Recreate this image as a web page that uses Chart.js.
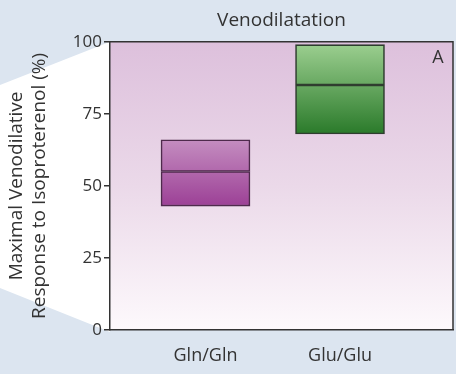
<!DOCTYPE html>
<html>
<head>
<meta charset="utf-8">
<script src="https://cdn.jsdelivr.net/npm/chart.js@4.4.1/dist/chart.umd.min.js"></script>
<style>
  html, body { margin: 0; padding: 0; background: #dce5f0; }
  #wrap { width: 456px; height: 374px; }
</style>
</head>
<body>
<div id="wrap"><canvas id="chart" width="456" height="374"></canvas></div>
<script>
// data
const categories = ['Gln/Gln', 'Glu/Glu'];
const xPositions = [1, 2];
const lows = [43, 68];
const medians = [55, 85];
const highs = [66, 99];
const yTicks = [0, 25, 50, 75, 100];

const FONT = "'Open Sans', sans-serif";
const INK = '#333';

// box colours (top of gradient, bottom of gradient, outline)
const boxColors = [
    { top: '#c48dc0', bottom: '#9c4096', border: '#4e2a4c' },
    { top: '#9bce8f', bottom: '#2a7a2a', border: '#2f3d2f' }
];

// one gradient per box, spanning low..high so both halves blend
function boxFill(context) {
    const chart = context.chart;
    const i = context.dataIndex;
    const y = chart.scales.y;
    if (!chart.chartArea || !y) return boxColors[i].top;
    const g = chart.ctx.createLinearGradient(0, y.getPixelForValue(highs[i]), 0, y.getPixelForValue(lows[i]));
    g.addColorStop(0, boxColors[i].top);
    g.addColorStop(1, boxColors[i].bottom);
    return g;
}

function boxBorder(context) {
    return boxColors[context.dataIndex].border;
}

// background, white callout wedge, plot gradient, frame and panel letter
const backdrop = {
    id: 'backdrop',
    beforeDraw(chart) {
        const { ctx, chartArea: a, width, height } = chart;
        ctx.save();
        ctx.fillStyle = '#dce5f0';
        ctx.fillRect(0, 0, width, height);
        ctx.fillStyle = '#ffffff';
        ctx.beginPath();
        ctx.moveTo(0, 85);
        ctx.lineTo(a.left, a.top);
        ctx.lineTo(a.left, a.bottom + 2);
        ctx.lineTo(0, 288);
        ctx.closePath();
        ctx.fill();
        const g = ctx.createLinearGradient(0, a.top, 0, a.bottom);
        g.addColorStop(0, '#ddc0dc');
        g.addColorStop(0.5, '#ebd9e9');
        g.addColorStop(1, '#fdf9fc');
        ctx.fillStyle = g;
        ctx.fillRect(a.left, a.top, a.right - a.left, a.bottom - a.top);
        ctx.restore();
    },
    afterDraw(chart) {
        const { ctx, chartArea: a } = chart;
        ctx.save();
        ctx.strokeStyle = INK;
        ctx.lineWidth = 1.5;
        ctx.beginPath();
        ctx.moveTo(a.left, a.top);
        ctx.lineTo(a.right, a.top);
        ctx.lineTo(a.right, a.bottom);
        ctx.stroke();
        ctx.fillStyle = INK;
        ctx.font = '18px ' + FONT;
        ctx.textAlign = 'center';
        ctx.textBaseline = 'middle';
        ctx.fillText('A', a.right - 15, a.top + 16);
        ctx.restore();
    }
};

const lowerHalf = xPositions.map((x, i) => ({ x: x, y: [lows[i], medians[i]] }));
const upperHalf = xPositions.map((x, i) => ({ x: x, y: [medians[i], highs[i]] }));

const barStyle = {
    grouped: false,
    barThickness: 89,
    backgroundColor: boxFill,
    borderColor: boxBorder,
    borderWidth: 1.6,
    borderSkipped: false
};

new Chart(document.getElementById('chart'), {
    type: 'bar',
    data: {
        datasets: [
            Object.assign({ label: 'lower', data: lowerHalf }, barStyle),
            Object.assign({ label: 'upper', data: upperHalf }, barStyle)
        ]
    },
    options: {
        responsive: false,
        animation: false,
        layout: { padding: { left: 0, right: 3, top: 0, bottom: 0 } },
        plugins: {
            legend: { display: false },
            tooltip: { enabled: false },
            title: {
                display: true,
                text: 'Venodilatation',
                fullSize: false,
                color: INK,
                font: { family: FONT, size: 19, weight: 'normal' },
                padding: { top: 9, bottom: 10 }
            }
        },
        scales: {
            x: {
                type: 'linear',
                min: 0.29,
                max: 2.84,
                offset: false,
                grid: { display: false, drawTicks: false },
                border: { color: INK, width: 1.5 },
                afterBuildTicks: (scale) => {
                    scale.ticks = xPositions.map(v => ({ value: v }));
                },
                afterFit: (scale) => { scale.height = 44; },
                ticks: {
                    color: INK,
                    padding: 15,
                    font: { family: FONT, size: 18 },
                    callback: (v) => categories[xPositions.indexOf(v)]
                }
            },
            y: {
                min: 0,
                max: 100,
                afterBuildTicks: (scale) => {
                    scale.ticks = yTicks.map(v => ({ value: v }));
                },
                afterFit: (scale) => { scale.width = 110; },
                grid: {
                    display: true,
                    drawOnChartArea: false,
                    drawTicks: true,
                    tickLength: 6,
                    color: INK,
                    lineWidth: 1.5
                },
                border: { color: INK, width: 1.5 },
                ticks: {
                    color: INK,
                    padding: 2,
                    font: { family: FONT, size: 17 }
                },
                title: {
                    display: true,
                    text: ['Maximal Venodilative', 'Response to Isoproterenol (%)'],
                    color: INK,
                    font: { family: FONT, size: 19 },
                    padding: { top: 5, bottom: 0 }
                }
            }
        }
    },
    plugins: [backdrop]
});
</script>
</body>
</html>
